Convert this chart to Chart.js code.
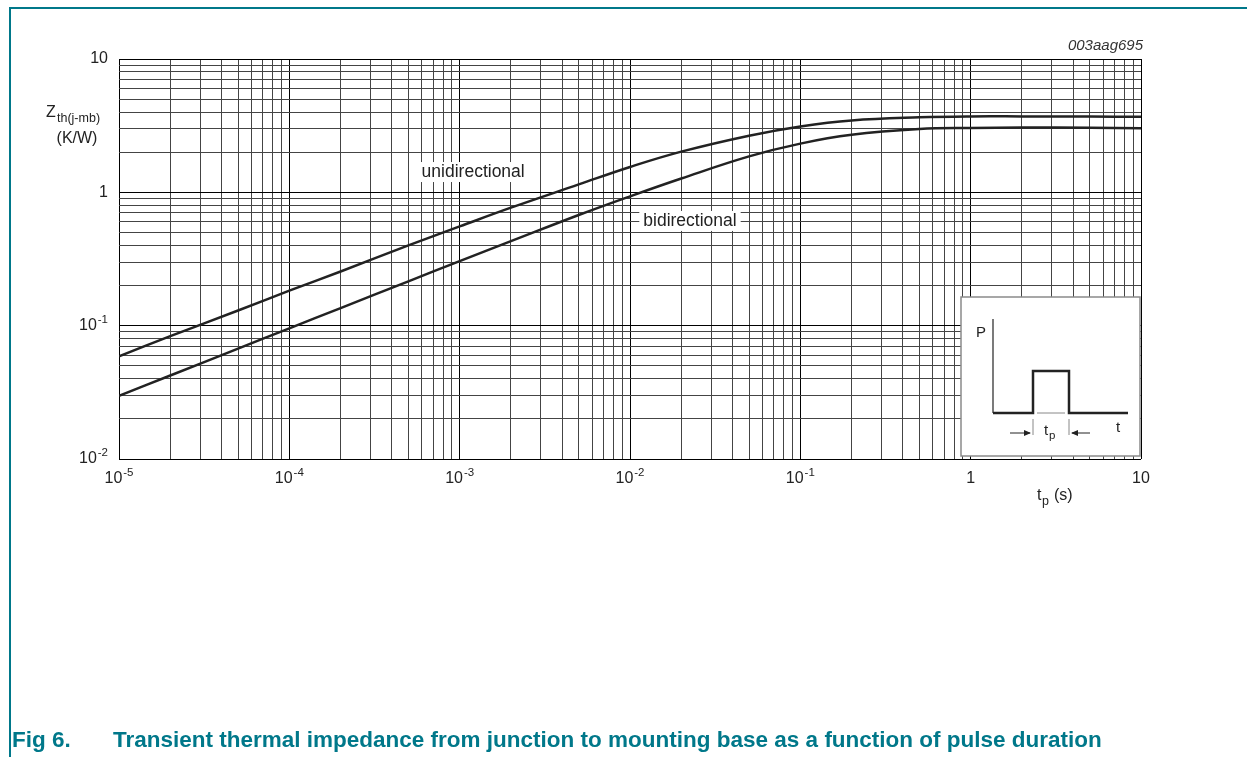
<!DOCTYPE html>
<html>
<head>
<meta charset="utf-8">
<script src="https://cdn.jsdelivr.net/npm/chart.js@4.4.1/dist/chart.umd.min.js"></script>
<style>
  html, body { margin: 0; padding: 0; background: #fff; }
  #wrap { position: relative; width: 1247px; height: 757px; overflow: hidden;
          font-family: "Liberation Sans", Arial, sans-serif; }
  #frame { position: absolute; left: 9px; top: 7px; right: -4px; bottom: -4px;
           border-left: 2px solid #00788a; border-top: 2px solid #00788a; }
  #chart { position: absolute; left: 0; top: 0; }
  #caption { position: absolute; left: 12px; top: 727px; font-weight: bold;
             font-size: 22.5px; color: #00788a; white-space: pre; }
  #caption span { display: inline-block; width: 101px; }
</style>
</head>
<body>
<div id="wrap">
  <div id="frame"></div>
  <canvas id="chart" width="1247" height="757"></canvas>
  <div id="caption"><span>Fig 6.</span>Transient thermal impedance from junction to mounting base as a function of pulse duration</div>
</div>
<script>
/* Data */
const tp = [1e-5, 2e-5, 5e-5, 1e-4, 2e-4, 5e-4, 1e-3, 2e-3, 5e-3, 1e-2,
            2e-2, 5e-2, 0.1, 0.2, 0.5, 1, 2, 5, 10];
const zthUni = [0.059, 0.0834, 0.130, 0.183, 0.255, 0.40, 0.555, 0.767, 1.146, 1.55,
                2.02, 2.66, 3.12, 3.46, 3.65, 3.71, 3.71, 3.70, 3.69];
const zthBi = [0.0298, 0.0423, 0.0673, 0.0955, 0.1355, 0.215, 0.305, 0.43, 0.676, 0.933,
               1.27, 1.86, 2.32, 2.70, 2.98, 3.04, 3.06, 3.05, 3.03];

/* Tick labels (base + superscript) */
const xTickValues = [1e-5, 1e-4, 1e-3, 1e-2, 1e-1, 1, 10];
const xTickBase = ['10', '10', '10', '10', '10', '1', '10'];
const xTickExp = ['-5', '-4', '-3', '-2', '-1', '', ''];
const yTickValues = [0.01, 0.1, 1, 10];
const yTickBase = ['10', '10', '1', '10'];
const yTickExp = ['-2', '-1', '', ''];

/* Curve labels, in data coordinates */
const curveLabels = ['unidirectional', 'bidirectional'];
const curveLabelX = [1.2e-3, 2.25e-2];
const curveLabelY = [1.42, 0.61];

const FONT = '"Liberation Sans", Arial, sans-serif';

// 1..9 in every decade, for the log grid
function logGrid(decades) {
    const vals = [];
    decades.forEach((d, i) => {
        if (i === decades.length - 1) { vals.push(d); return; }
        for (let m = 1; m <= 9; m++) vals.push(+(d * m).toPrecision(3));
    });
    return vals;
}
const xGrid = logGrid(xTickValues);
const yGrid = logGrid(yTickValues);

function isPow10(v) {
    const l = Math.log10(v);
    return Math.abs(l - Math.round(l)) < 1e-9;
}

function setTicks(vals) {
    return (scale) => {
        scale.ticks = vals.map(v => ({ value: v, major: isPow10(v) }));
    };
}

// label "10" with a raised exponent
function drawPow(ctx, base, exp, x, y, align) {
    ctx.font = '16px ' + FONT;
    const wb = ctx.measureText(base).width;
    ctx.font = '11.5px ' + FONT;
    const we = exp ? ctx.measureText(exp).width + 1 : 0;
    const total = wb + we;
    let x0 = align === 'right' ? x - total : x - total / 2;
    ctx.textAlign = 'left';
    ctx.textBaseline = 'middle';
    ctx.font = '16px ' + FONT;
    ctx.fillText(base, x0, y);
    if (exp) {
        ctx.font = '11.5px ' + FONT;
        ctx.fillText(exp, x0 + wb + 1, y - 6);
    }
}

const decorations = {
    id: 'decorations',
    afterDatasetsDraw(chart) {
        const ctx = chart.ctx;
        const xs = chart.scales.x, ys = chart.scales.y;
        ctx.save();
        ctx.font = '17.5px ' + FONT;
        ctx.textAlign = 'center';
        ctx.textBaseline = 'middle';
        curveLabels.forEach((t, i) => {
            const px = xs.getPixelForValue(curveLabelX[i]);
            const py = ys.getPixelForValue(curveLabelY[i]);
            const w = ctx.measureText(t).width;
            ctx.fillStyle = '#fff';
            ctx.fillRect(px - w / 2 - 4, py - 10, w + 8, 20);
            ctx.fillStyle = '#222';
            ctx.fillText(t, px, py);
        });
        ctx.restore();
    },
    afterDraw(chart) {
        const ctx = chart.ctx;
        const ca = chart.chartArea;
        const xs = chart.scales.x, ys = chart.scales.y;
        ctx.save();
        ctx.fillStyle = '#222';

        // tick labels
        xTickValues.forEach((v, i) => {
            drawPow(ctx, xTickBase[i], xTickExp[i], xs.getPixelForValue(v), ca.bottom + 20, 'center');
        });
        yTickValues.forEach((v, i) => {
            drawPow(ctx, yTickBase[i], yTickExp[i], ca.left - 11, ys.getPixelForValue(v), 'right');
        });

        // y axis title
        ctx.textBaseline = 'middle';
        ctx.textAlign = 'left';
        ctx.font = '16px ' + FONT;
        ctx.fillText('Z', 46, 113);
        ctx.font = '12.5px ' + FONT;
        ctx.fillText('th(j-mb)', 57, 119);
        ctx.font = '16px ' + FONT;
        ctx.textAlign = 'center';
        ctx.fillText('(K/W)', 77, 139);

        // x axis title
        ctx.textAlign = 'left';
        ctx.fillText('t', 1037, 496);
        ctx.font = '12.5px ' + FONT;
        ctx.fillText('p', 1042, 502);
        ctx.font = '16px ' + FONT;
        ctx.fillText('(s)', 1054, 496);

        // drawing id
        ctx.font = 'italic 15px ' + FONT;
        ctx.textAlign = 'right';
        ctx.fillStyle = '#333';
        ctx.fillText('003aag695', ca.right + 2, 46);

        // pulse inset
        const bl = ca.right - 180, bt = ca.bottom - 162;
        const br = ca.right - 1, bb = ca.bottom - 3;
        ctx.fillStyle = '#fff';
        ctx.fillRect(bl, bt, br - bl, bb - bt);
        ctx.strokeStyle = '#8a8a8a';
        ctx.lineWidth = 1.5;
        ctx.strokeRect(bl, bt, br - bl, bb - bt);

        const ax = ca.right - 148, aTop = ca.bottom - 140, base = ca.bottom - 46;
        const p1 = ca.right - 108, p2 = ca.right - 72, pTop = ca.bottom - 88;
        const bEnd = ca.right - 13;
        ctx.strokeStyle = '#222';
        ctx.lineWidth = 1.2;
        ctx.beginPath();
        ctx.moveTo(ax, aTop);
        ctx.lineTo(ax, base);
        ctx.stroke();
        ctx.lineWidth = 2.5;
        ctx.beginPath();
        ctx.moveTo(ax, base);
        ctx.lineTo(p1, base);
        ctx.lineTo(p1, pTop);
        ctx.lineTo(p2, pTop);
        ctx.lineTo(p2, base);
        ctx.lineTo(bEnd, base);
        ctx.stroke();
        ctx.strokeStyle = '#888';
        ctx.lineWidth = 1;
        ctx.beginPath();
        ctx.moveTo(p1 + 4, base); ctx.lineTo(p2 - 4, base);
        ctx.moveTo(p1, base + 6); ctx.lineTo(p1, base + 22);
        ctx.moveTo(p2, base + 6); ctx.lineTo(p2, base + 22);
        ctx.stroke();

        // dimension arrows
        const ay = base + 20;
        ctx.strokeStyle = '#222';
        ctx.fillStyle = '#222';
        ctx.lineWidth = 1;
        ctx.beginPath();
        ctx.moveTo(p1 - 23, ay); ctx.lineTo(p1 - 3, ay);
        ctx.moveTo(p2 + 21, ay); ctx.lineTo(p2 + 3, ay);
        ctx.stroke();
        ctx.beginPath();
        ctx.moveTo(p1 - 2, ay); ctx.lineTo(p1 - 9, ay - 3); ctx.lineTo(p1 - 9, ay + 3); ctx.closePath();
        ctx.moveTo(p2 + 2, ay); ctx.lineTo(p2 + 9, ay - 3); ctx.lineTo(p2 + 9, ay + 3); ctx.closePath();
        ctx.fill();

        ctx.textAlign = 'left';
        ctx.textBaseline = 'middle';
        ctx.font = '15px ' + FONT;
        ctx.fillText('t', p1 + 11, ay - 2);
        ctx.font = '11.5px ' + FONT;
        ctx.fillText('p', p1 + 16, ay + 3);
        ctx.font = '15px ' + FONT;
        ctx.fillText('t', ca.right - 25, ay - 5);
        ctx.fillText('P', ax - 17, ca.bottom - 126);
        ctx.restore();
    }
};

new Chart(document.getElementById('chart'), {
    type: 'line',
    data: {
        datasets: [{
            label: 'unidirectional',
            data: tp.map((t, i) => ({ x: t, y: zthUni[i] })),
            borderColor: '#222',
            borderWidth: 2.5,
            pointRadius: 0,
            tension: 0.4,
            fill: false
        }, {
            label: 'bidirectional',
            data: tp.map((t, i) => ({ x: t, y: zthBi[i] })),
            borderColor: '#222',
            borderWidth: 2.5,
            pointRadius: 0,
            tension: 0.4,
            fill: false
        }]
    },
    options: {
        responsive: false,
        animation: false,
        devicePixelRatio: 1,
        layout: { padding: { left: 119, right: 106, top: 59, bottom: 298 } },
        plugins: {
            legend: { display: false },
            tooltip: { enabled: false }
        },
        scales: {
            x: {
                type: 'logarithmic',
                min: 1e-5,
                max: 10,
                afterBuildTicks: setTicks(xGrid),
                ticks: { display: false },
                grid: {
                    drawTicks: false,
                    lineWidth: 1,
                    color: (c) => (c.tick && c.tick.major ? '#000' : '#444')
                },
                border: { display: false }
            },
            y: {
                type: 'logarithmic',
                min: 0.01,
                max: 10,
                afterBuildTicks: setTicks(yGrid),
                ticks: { display: false },
                grid: {
                    drawTicks: false,
                    lineWidth: 1,
                    color: (c) => (c.tick && c.tick.major ? '#000' : '#444')
                },
                border: { display: false }
            }
        }
    },
    plugins: [decorations]
}); // End Chart
</script>
</body>
</html>
